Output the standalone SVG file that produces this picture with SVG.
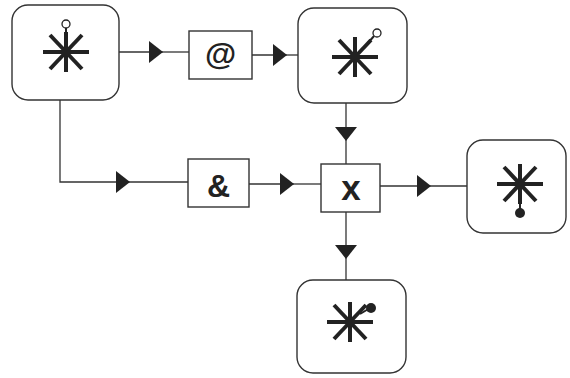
<svg xmlns="http://www.w3.org/2000/svg" width="570" height="378" viewBox="0 0 570 378">
<style>
.node{fill:#fff;stroke:#333;stroke-width:1.4}
.op{fill:#fff;stroke:#333;stroke-width:1.4}
.star{stroke:#222;stroke-width:4;stroke-linecap:butt;fill:none}
.stem{stroke:#222;stroke-width:2;fill:none}
.wire{stroke:#333;stroke-width:1.3;fill:none}
.lbl{font-family:"Liberation Sans",Arial,sans-serif;font-weight:bold;fill:#222;text-anchor:middle}
</style>
<defs>
<g id="star">
<line x1="-23" y1="0" x2="23" y2="0"/>
<line x1="0" y1="-20" x2="0" y2="20"/>
<line x1="-16" y1="-17" x2="16" y2="17"/>
<line x1="-16" y1="17" x2="16" y2="-17"/>
</g>
<marker id="ar" viewBox="0 0 14 22" refX="14" refY="11" markerWidth="14" markerHeight="22" markerUnits="userSpaceOnUse" orient="auto">
<path d="M0,0 L14,11 L0,22 Z" fill="#222"/>
</marker>
</defs>
<g id="connectors">
<path class="wire" d="M119,52 H163" marker-end="url(#ar)"/>
<path class="wire" d="M163,52 H189"/>
<path class="wire" d="M252,55 H287" marker-end="url(#ar)"/>
<path class="wire" d="M287,55 H298"/>
<path class="wire" d="M346,103 V141" marker-end="url(#ar)"/>
<path class="wire" d="M346,141 V164"/>
<path class="wire" d="M60,100 V182 H130" marker-end="url(#ar)"/>
<path class="wire" d="M130,182 H188"/>
<path class="wire" d="M249,184 H294" marker-end="url(#ar)"/>
<path class="wire" d="M294,184 H321"/>
<path class="wire" d="M380,186 H431" marker-end="url(#ar)"/>
<path class="wire" d="M431,186 H467"/>
<path class="wire" d="M346,212 V259" marker-end="url(#ar)"/>
<path class="wire" d="M346,259 V280"/>
</g>
<g id="node-source">
<rect class="node" x="12" y="5" width="107" height="95" rx="16"/>
<use href="#star" class="star" x="66" y="52"/>
<line class="stem" x1="66" y1="28" x2="66" y2="34"/>
<circle cx="66" cy="24" r="4" fill="#fff" stroke="#222" stroke-width="1.3"/>
</g>
<g id="op-at">
<rect class="op" x="189" y="31" width="63" height="48"/>
<text class="lbl" x="220.5" y="65" font-size="32">@</text>
</g>
<g id="node-top">
<rect class="node" x="298" y="8" width="109" height="95" rx="16"/>
<use href="#star" class="star" x="355" y="57"/>
<line class="stem" x1="368" y1="43" x2="374" y2="36"/>
<circle cx="377" cy="33" r="4" fill="#fff" stroke="#222" stroke-width="1.3"/>
</g>
<g id="op-and">
<rect class="op" x="188" y="159" width="61" height="48"/>
<text class="lbl" x="218.5" y="197" font-size="32">&amp;</text>
</g>
<g id="op-x">
<rect class="op" x="321" y="164" width="59" height="48"/>
<text class="lbl" x="351" y="200" font-size="35">x</text>
</g>
<g id="node-right">
<rect class="node" x="467" y="140" width="99" height="93" rx="16"/>
<use href="#star" class="star" x="520" y="184"/>
<line class="stem" x1="520" y1="200" x2="520" y2="212"/>
<circle cx="520" cy="213" r="5" fill="#222"/>
</g>
<g id="node-bottom">
<rect class="node" x="297" y="280" width="109" height="93" rx="16"/>
<use href="#star" class="star" x="350" y="322"/>
<line class="stem" x1="360" y1="314" x2="370" y2="308"/>
<circle cx="371" cy="308" r="5" fill="#222"/>
</g>
</svg>
